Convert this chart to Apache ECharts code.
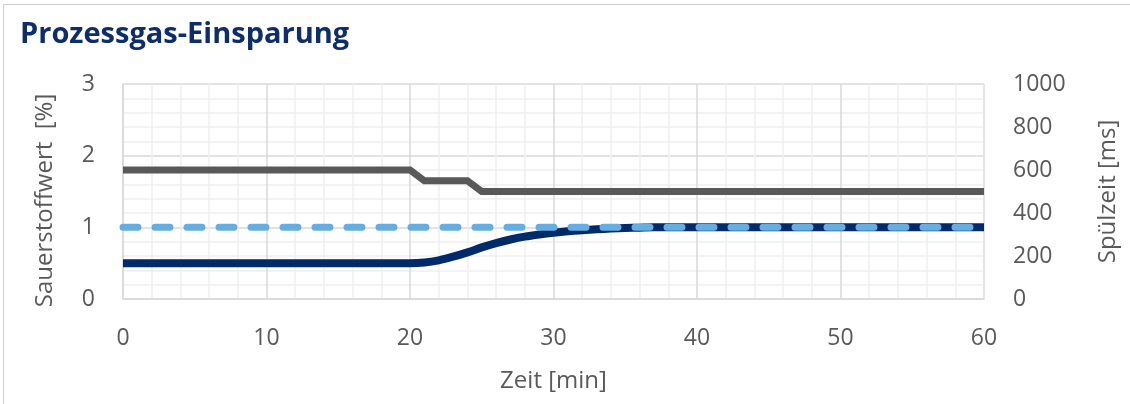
<!DOCTYPE html>
<html>
<head>
<meta charset="utf-8">
<script src="https://cdn.jsdelivr.net/npm/echarts@6/dist/echarts.min.js"></script>
<style>
  html, body { margin: 0; padding: 0; background: #fff; }
  #frame { position: absolute; left: 3px; top: 4px; width: 1140px; height: 420px; border: 1.5px solid #cfcfcf; box-sizing: border-box; }
  #chart { position: absolute; left: 0; top: 0; width: 1130px; height: 404px; }
</style>
</head>
<body>
<div id="frame"></div>
<div id="chart"></div>
<script>
// ---- data ----
const timeMin = [0,1,2,3,4,5,6,7,8,9,10,11,12,13,14,15,16,17,18,19,20,21,22,23,24,25,26,27,28,29,30,31,32,33,34,35,36,37,38,39,40,41,42,43,44,45,46,47,48,49,50,51,52,53,54,55,56,57,58,59,60];
const oxygenActual = [0.5,0.5,0.5,0.5,0.5,0.5,0.5,0.5,0.5,0.5,0.5,0.5,0.5,0.5,0.5,0.5,0.5,0.5,0.5,0.5,
  0.5,0.51,0.54,0.59,0.65,0.72,0.78,0.83,0.87,0.9,0.925,0.945,0.96,0.972,0.982,0.99,0.995,1,1,1,
  1,1,1,1,1,1,1,1,1,1,1,1,1,1,1,1,1,1,1,1,1];
const oxygenSetpoint = [1,1,1,1,1,1,1,1,1,1,1,1,1,1,1,1,1,1,1,1,1,1,1,1,1,1,1,1,1,1,1,1,1,1,1,1,1,1,1,1,1,1,1,1,1,1,1,1,1,1,1,1,1,1,1,1,1,1,1,1,1];
const purgeTimeMs = [600,600,600,600,600,600,600,600,600,600,600,600,600,600,600,600,600,600,600,600,600,
  550,550,550,550,500,500,500,500,500,500,500,500,500,500,500,500,500,500,500,500,500,500,500,500,500,500,500,500,500,500,500,500,500,500,500,500,500,500,500,500];
const xTicks = [0,10,20,30,40,50,60];
const leftTicks = [0,1,2,3];
const rightTicks = [0,200,400,600,800,1000];

const pair = (ys) => timeMin.map((t, i) => [t, ys[i]]);
const FONT = '"Open Sans", "Noto Sans", sans-serif';
const TXT = '#595959';
const LBL = 23;
const NAME = 24;

const chart = echarts.init(document.getElementById('chart'), null, { renderer: 'canvas' });
chart.setOption({
  animation: false,
  title: {
    text: 'Prozessgas-Einsparung',
    left: 15, top: 15,
    textStyle: { fontFamily: FONT, fontSize: 29, fontWeight: 'bold', color: '#0E2D6C' }
  },
  grid: { left: 123, right: 146, top: 84, height: 215, containLabel: false },
  xAxis: {
    type: 'value', min: xTicks[0], max: xTicks[xTicks.length - 1], interval: 10,
    name: 'Zeit [min]', nameLocation: 'middle', nameGap: 70,
    nameTextStyle: { fontFamily: FONT, fontSize: NAME, color: TXT },
    axisLine: { show: true, lineStyle: { color: '#d9d9d9', width: 1.5 } },
    axisTick: { show: false },
    axisLabel: { margin: 28, fontFamily: FONT, fontSize: LBL, color: TXT },
    splitLine: { show: true, lineStyle: { color: '#d9d9d9', width: 1.5 } },
    minorTick: { show: false, splitNumber: 5 },
    minorSplitLine: { show: true, lineStyle: { color: '#f0f0f0', width: 1.5 } }
  },
  yAxis: [
    {
      type: 'value', min: leftTicks[0], max: leftTicks[leftTicks.length - 1], interval: 1,
      name: 'Sauerstoffwert  [%]', nameLocation: 'middle', nameGap: 66, nameRotate: 90,
      nameTextStyle: { fontFamily: FONT, fontSize: NAME, color: TXT, padding: [0, 18, 0, 0] },
      axisLine: { show: true, lineStyle: { color: '#d9d9d9', width: 1.5 } },
      axisTick: { show: false },
      axisLabel: { margin: 28, fontFamily: FONT, fontSize: LBL, color: TXT },
      splitLine: { show: true, lineStyle: { color: '#d9d9d9', width: 1.5 } },
      minorTick: { show: false, splitNumber: 5 },
      minorSplitLine: { show: true, lineStyle: { color: '#f0f0f0', width: 1.5 } }
    },
    {
      type: 'value', min: rightTicks[0], max: rightTicks[rightTicks.length - 1], interval: 200,
      position: 'right',
      name: 'Spülzeit [ms]', nameLocation: 'middle', nameGap: 112, nameRotate: 90,
      nameTextStyle: { fontFamily: FONT, fontSize: NAME, color: TXT },
      axisLine: { show: true, lineStyle: { color: '#e6e6e6', width: 1.5 } },
      axisTick: { show: false },
      axisLabel: { margin: 29, fontFamily: FONT, fontSize: LBL, color: TXT, formatter: (v) => String(v) },
      splitLine: { show: false }
    }
  ],
  series: [
    {
      name: 'Spülzeit', type: 'line', yAxisIndex: 1, data: pair(purgeTimeMs),
      showSymbol: false, symbol: 'none',
      lineStyle: { color: '#595959', width: 7, join: 'miter' }
    },
    {
      name: 'Sauerstoff Ist', type: 'line', yAxisIndex: 0, data: pair(oxygenActual),
      showSymbol: false, symbol: 'none', smooth: 0.3,
      lineStyle: { color: '#002A6A', width: 8 }
    },
    {
      name: 'Sauerstoff Soll', type: 'line', yAxisIndex: 0, data: pair(oxygenSetpoint),
      showSymbol: false, symbol: 'none',
      lineStyle: { color: '#66AEE2', width: 7, type: [15, 17], cap: 'round' }
    }
  ]
});
</script>
</body>
</html>
